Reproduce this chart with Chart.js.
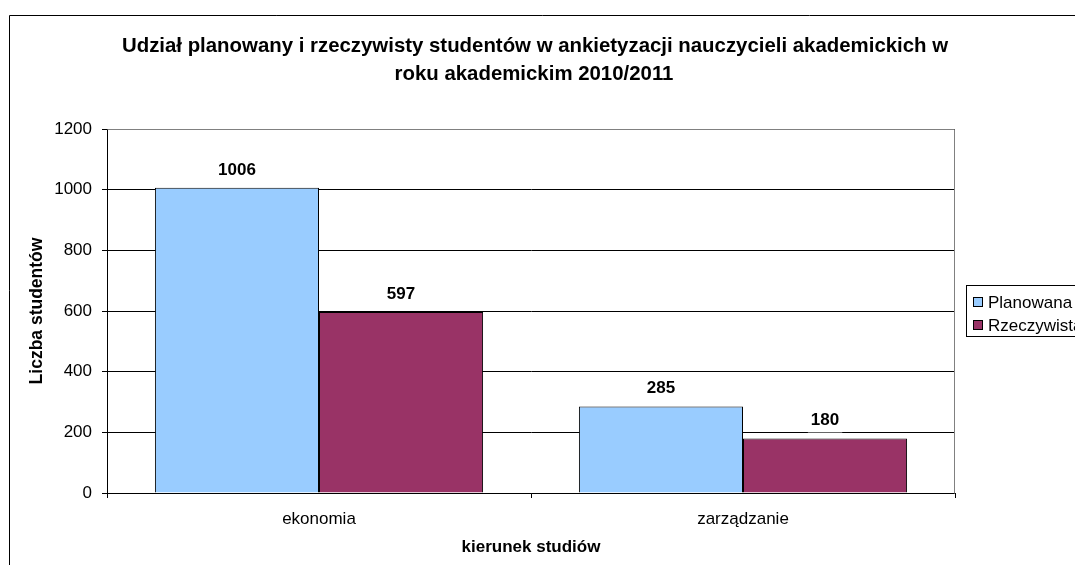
<!DOCTYPE html>
<html>
<head>
<meta charset="utf-8">
<script src="https://cdn.jsdelivr.net/npm/chart.js@4/dist/chart.umd.min.js"></script>
<style>
html,body{margin:0;padding:0;background:#fff;}
#wrap{width:1075px;height:565px;position:relative;}
</style>
</head>
<body>
<div id="wrap"><canvas id="c" width="1075" height="565"></canvas></div>
<script>
const categories = ['ekonomia', 'zarządzanie'];
const seriesNames = ['Planowana', 'Rzeczywista'];
const planowana = [1006, 285];
const rzeczywista = [597, 180];
const yTicks = [0, 200, 400, 600, 800, 1000, 1200];
const titleLines = ['Udział planowany i rzeczywisty studentów w ankietyzacji nauczycieli akademickich w', 'roku akademickim 2010/2011'];
const yTitle = 'Liczba studentów';
const xTitle = 'kierunek studiów';

const FONT = 'Liberation Sans, Arial, sans-serif';

const framePlugin = {
  id: 'frame',
  beforeDraw(chart) {
    const ctx = chart.ctx;
    ctx.save();
    ctx.fillStyle = '#fff';
    ctx.fillRect(0, 0, chart.width, chart.height);
    ctx.strokeStyle = '#000';
    ctx.lineWidth = 1;
    ctx.beginPath();
    ctx.moveTo(9.5, chart.height + 2);
    ctx.lineTo(9.5, 15.5);
    ctx.lineTo(chart.width + 2, 15.5);
    ctx.stroke();
    ctx.fillStyle = '#000';
    ctx.font = 'bold 20.4px ' + FONT;
    ctx.textAlign = 'center';
    ctx.textBaseline = 'middle';
    ctx.fillText(titleLines[0], 535, 46);
    ctx.fillText(titleLines[1], 534, 74);
    ctx.restore();
  },
  beforeDatasetsDraw(chart) {
    const a = chart.chartArea;
    const ctx = chart.ctx;
    ctx.save();
    ctx.strokeStyle = '#808080';
    ctx.lineWidth = 1;
    ctx.beginPath();
    ctx.moveTo(Math.round(a.left) + 0.5, Math.round(a.top) + 0.5);
    ctx.lineTo(Math.round(a.right) - 0.5, Math.round(a.top) + 0.5);
    ctx.lineTo(Math.round(a.right) - 0.5, Math.round(a.bottom) + 0.5);
    ctx.stroke();
    ctx.restore();
  },
  afterDatasetsDraw(chart) {
    const ctx = chart.ctx;
    ctx.save();
    ctx.font = 'bold 17px ' + FONT;
    ctx.textAlign = 'center';
    ctx.textBaseline = 'middle';
    chart.data.datasets.forEach((ds, i) => {
      const meta = chart.getDatasetMeta(i);
      meta.data.forEach((bar, j) => {
        const txt = String(ds.data[j]);
        const w = ctx.measureText(txt).width;
        const y = bar.y - 18;
        ctx.fillStyle = '#fff';
        ctx.fillRect(bar.x - w / 2 - 3, y - 10, w + 6, 22);
        ctx.fillStyle = '#000';
        ctx.fillText(txt, bar.x, y);
      });
    });
    // legend
    const lx = 966.5, ly = 285.5;
    ctx.strokeStyle = '#000';
    ctx.lineWidth = 1;
    ctx.fillStyle = '#fff';
    ctx.fillRect(lx, ly, 200, 51);
    ctx.strokeRect(lx, ly, 200, 51);
    ctx.font = '17px ' + FONT;
    ctx.textAlign = 'left';
    chart.data.datasets.forEach((ds, i) => {
      const cy = 302 + i * 23;
      ctx.fillStyle = ds.backgroundColor;
      ctx.fillRect(973.5, cy - 4.5, 9, 9);
      ctx.strokeRect(973.5, cy - 4.5, 9, 9);
      ctx.fillStyle = '#000';
      ctx.fillText(ds.label, 988, cy + 1);
    });
    ctx.restore();
  }
};

new Chart(document.getElementById('c'), {
  type: 'bar',
  data: {
    labels: categories,
    datasets: [
      { label: seriesNames[0], data: planowana, backgroundColor: '#99CCFF', borderColor: '#000', borderWidth: 1 },
      { label: seriesNames[1], data: rzeczywista, backgroundColor: '#993366', borderColor: '#000', borderWidth: 1 }
    ]
  },
  options: {
    responsive: false,
    animation: false,
    events: [],
    layout: { padding: { left: 23, top: 129, right: 120, bottom: 7 } },
    plugins: { legend: { display: false }, tooltip: { enabled: false }, title: { display: false } },
    datasets: { bar: { categoryPercentage: 0.774, barPercentage: 1.0 } },
    scales: {
      x: {
        afterFit(s) { s.height = 65; },
        grid: { display: true, drawOnChartArea: false, drawTicks: true, tickLength: 5, color: '#000', offset: true },
        border: { display: true, color: '#000', width: 1 },
        ticks: { color: '#000', font: { family: FONT, size: 17 }, padding: 11 },
        title: { display: true, text: xTitle, color: '#000', font: { family: FONT, size: 17, weight: 'bold' }, padding: { top: 8, bottom: 0 } }
      },
      y: {
        min: 0, max: 1200,
        afterFit(s) { s.width = 84; },
        afterBuildTicks(s) { s.ticks = yTicks.map(v => ({ value: v })); },
        grid: { color: '#000', lineWidth: 1, drawTicks: true, tickLength: 5 },
        border: { display: true, color: '#000', width: 1 },
        ticks: { color: '#000', font: { family: FONT, size: 17 }, padding: 10, callback: v => String(v) },
        title: { display: true, text: yTitle, color: '#000', font: { family: FONT, size: 17.5, weight: 'bold' }, padding: { top: 4, bottom: 4 } }
      }
    }
  },
  plugins: [framePlugin]
});
</script>
</body>
</html>
